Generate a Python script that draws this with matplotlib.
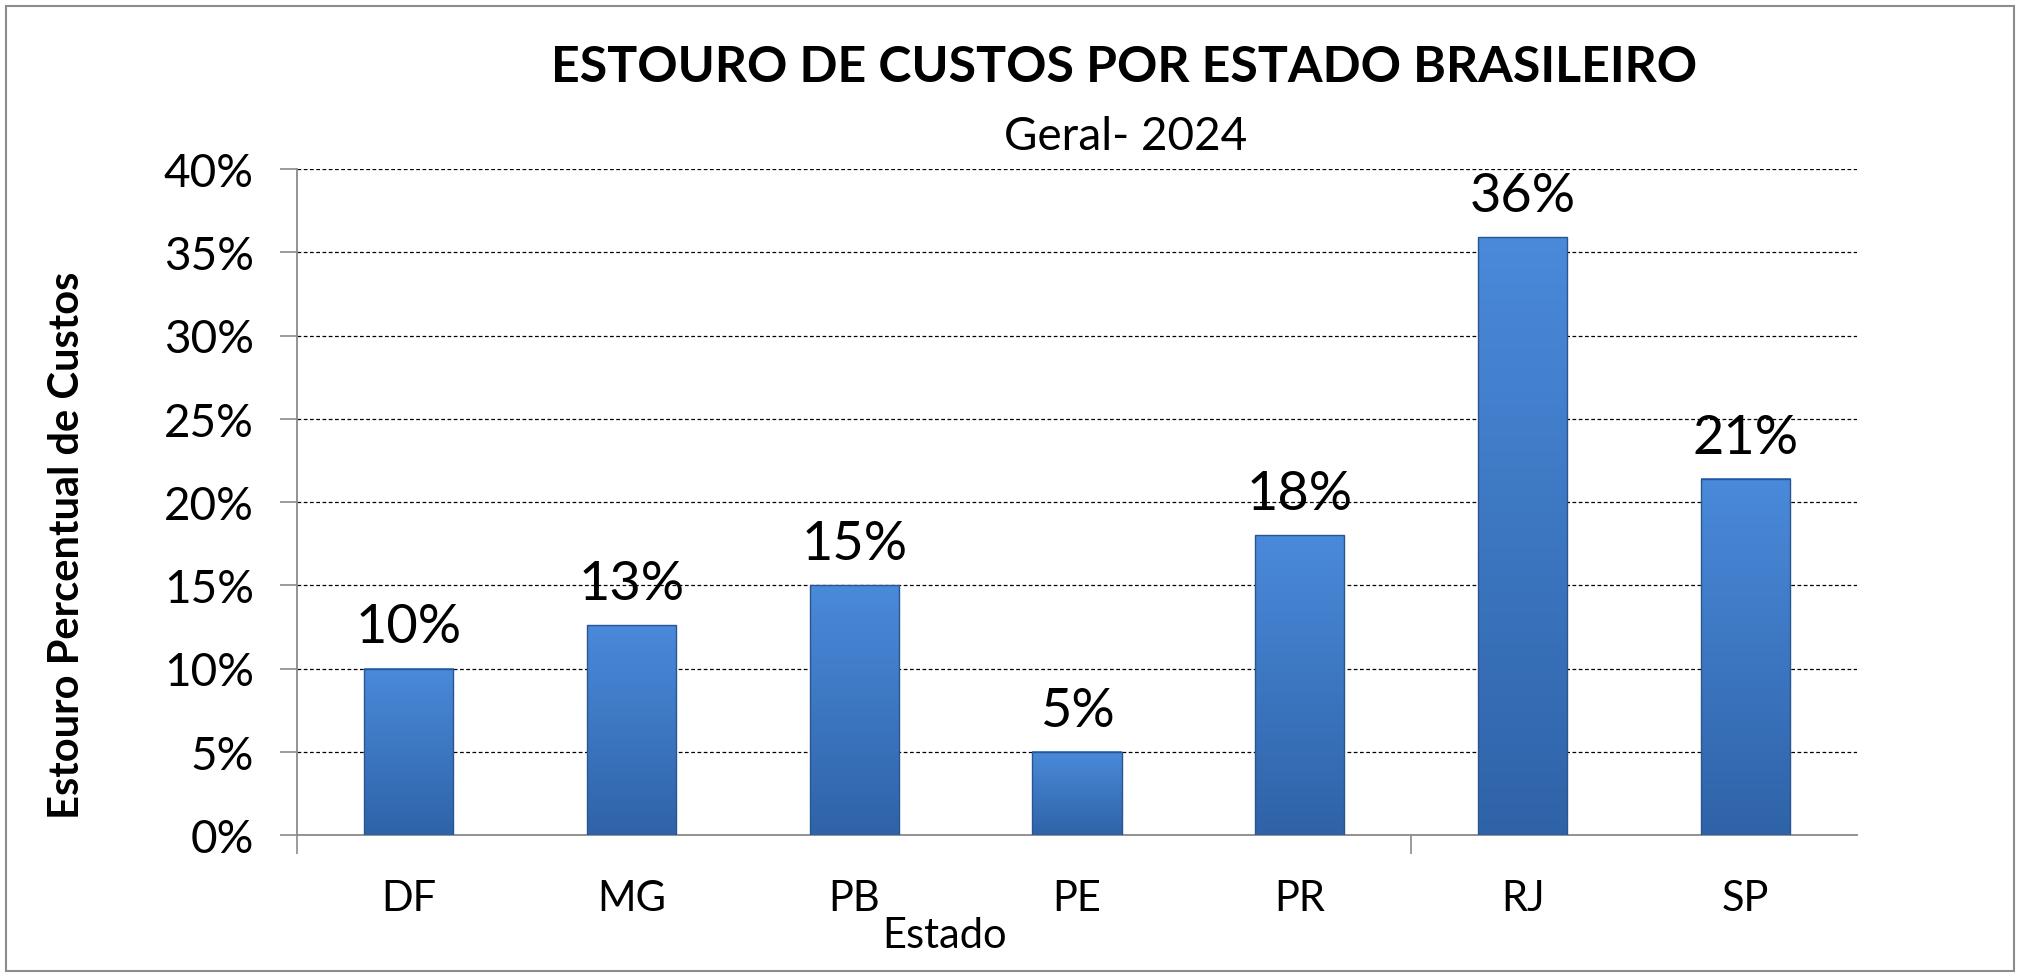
import numpy as np
import matplotlib
matplotlib.use("Agg")
import matplotlib.pyplot as plt
from matplotlib.colors import LinearSegmentedColormap
from matplotlib.patches import Rectangle
from matplotlib.ticker import FixedLocator, PercentFormatter

# data
estados = ["DF", "MG", "PB", "PE", "PR", "RJ", "SP"]
estouro = [10.0, 12.6, 15.0, 5.0, 18.0, 35.9, 21.4]
rotulos = ["10%", "13%", "15%", "5%", "18%", "36%", "21%"]
y_ticks = [0, 5, 10, 15, 20, 25, 30, 35, 40]
x_marcas = [-0.5, 4.5]   # only two tick marks drawn on the category axis

plt.rcParams['font.family'] = ['Lato', 'DejaVu Sans']

fig = plt.figure(figsize=(20.2, 9.78), dpi=100)
ax = fig.add_axes([297/2020, 142/978, 1560/2020, 666/978])

# bars with a vertical gradient (lighter at top)
cmap = LinearSegmentedColormap.from_list("bar", ["#2f63a8", "#4a8ada"])
grad = np.linspace(0, 1, 256).reshape(-1, 1)
bw = 0.40
x = np.arange(len(estados))
for xi, v in zip(x, estouro):
    ax.imshow(grad, cmap=cmap, origin="lower", aspect="auto",
              extent=[xi - bw/2, xi + bw/2, 0, v], zorder=3)
    ax.add_patch(Rectangle((xi - bw/2, 0), bw, v, fill=False,
                           edgecolor="#2a5590", lw=1.0, zorder=4))
    ax.annotate(rotulos[xi], (xi, v), xytext=(0, 30), textcoords="offset points",
                ha="center", va="center", fontsize=39, color="black")

ax.set_xlim(-0.5, len(estados) - 0.5)
ax.set_ylim(0, 40)

# axes look
for s in ["top", "right"]:
    ax.spines[s].set_visible(False)
for s in ["left", "bottom"]:
    ax.spines[s].set_color("#8a8a8a")
    ax.spines[s].set_linewidth(1.3)

ax.yaxis.set_major_locator(FixedLocator(y_ticks))
ax.yaxis.set_major_formatter(PercentFormatter(decimals=0))
ax.tick_params(axis="y", direction="out", length=12, width=1.2, color="#8a8a8a",
               labelsize=33, pad=19)
ax.grid(axis="y", color="black", linestyle=(0, (3, 2)), linewidth=0.9, zorder=1)
ax.set_axisbelow(True)

ax.set_xticks(x)
ax.set_xticklabels(estados)
ax.set_xticks(x_marcas, minor=True)
ax.tick_params(axis="x", which="major", length=0, labelsize=30, pad=32)
ax.tick_params(axis="x", which="minor", direction="out", length=14, width=1.2,
               color="#8a8a8a")

# texts
fig.text(1124/2020, 1 - 68/978, "ESTOURO DE CUSTOS POR ESTADO BRASILEIRO",
         ha="center", va="center", fontsize=36, fontweight="bold")
fig.text(1126/2020, 1 - 137/978, "Geral- 2024", ha="center", va="center", fontsize=33)
fig.text(67/2020, 1 - 545/978, "Estouro Percentual de Custos", rotation=90,
         ha="center", va="center", fontsize=30, fontweight="bold")
fig.text(945/2020, 1 - 936/978, "Estado", ha="center", va="center", fontsize=30)

# outer frame
fig.add_artist(Rectangle((6/2020, 6/978), 2008/2020, 965/978, transform=fig.transFigure,
                         fill=False, edgecolor="#8c8c8c", lw=1.5))

fig.savefig("out.png", dpi=100, facecolor="white")
